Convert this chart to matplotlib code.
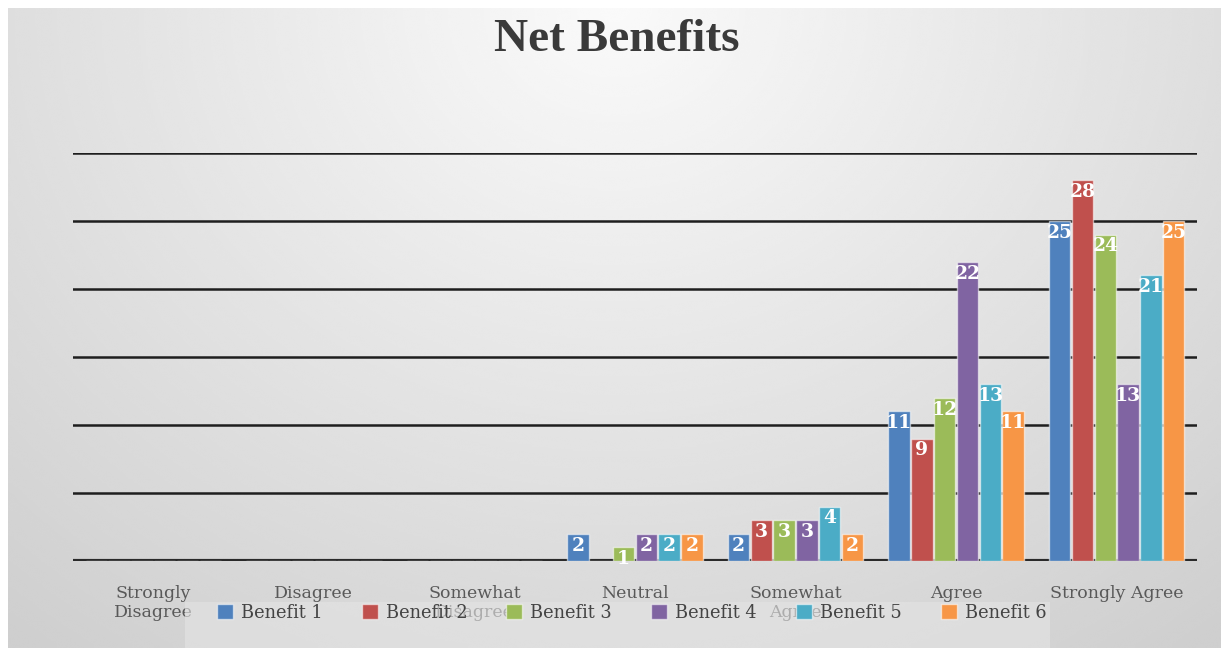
import matplotlib
matplotlib.use('Agg')
import matplotlib.pyplot as plt
from matplotlib.patches import Rectangle
import numpy as np

categories = ['Strongly\nDisagree', 'Disagree', 'Somewhat\nDisagree', 'Neutral',
              'Somewhat\nAgree', 'Agree', 'Strongly Agree']
series_names = ['Benefit 1', 'Benefit 2', 'Benefit 3', 'Benefit 4', 'Benefit 5', 'Benefit 6']
benefit_1 = [0, 0, 0, 2, 2, 11, 25]
benefit_2 = [0, 0, 0, 0, 3, 9, 28]
benefit_3 = [0, 0, 0, 1, 3, 12, 24]
benefit_4 = [0, 0, 0, 2, 3, 22, 13]
benefit_5 = [0, 0, 0, 2, 4, 13, 21]
benefit_6 = [0, 0, 0, 2, 2, 11, 25]
series = [benefit_1, benefit_2, benefit_3, benefit_4, benefit_5, benefit_6]
colors = ['#4F81BD', '#C0504D', '#9BBB59', '#8064A2', '#4BACC6', '#F79646']

W, H = 1221, 648
fig = plt.figure(figsize=(W / 100, H / 100), dpi=100)
fig.patch.set_facecolor('white')

# gradient background of the chart area
bg = fig.add_axes([8 / W, 0, 1 - 8 / W, 1 - 8 / H], zorder=-10)
yy, xx = np.mgrid[0:1:300j, -1:1:600j]
r = np.sqrt((xx * 0.9) ** 2 + (yy * 1.1) ** 2)
shade = 0.98 - 0.17 * np.clip(r, 0, 1.4) / 1.4
bg.imshow(shade, cmap='gray', vmin=0, vmax=1, aspect='auto', extent=[0, 1, 0, 1],
          interpolation='bicubic')
bg.set_axis_off()

ax = fig.add_axes([73 / W, 1 - 561 / H, (1197 - 73) / W, (561 - 153) / H])
ax.set_facecolor('none')

x = np.arange(len(categories))
bw = 0.142
for i, (vals, col, name) in enumerate(zip(series, colors, series_names)):
    pos = x + (i - 2.5) * bw
    ax.bar(pos, vals, width=bw * 0.94, color=col, edgecolor=(1, 1, 1, 0.55),
           linewidth=1.0, label=name, zorder=3)
    for px, v in zip(pos, vals):
        if v > 0:
            ax.annotate(str(v), (px, v), xytext=(0, -2), textcoords='offset points',
                        ha='center', va='top', color='white', fontsize=13.5,
                        fontweight='bold', family='DejaVu Serif', zorder=5)

ax.set_xlim(-0.5, len(categories) - 0.5)
ax.set_ylim(0, 30)
ax.set_yticks(np.arange(5, 31, 5))
ax.yaxis.grid(True, color='#1e1e1e', linewidth=1.8, zorder=0)
ax.set_axisbelow(True)
ax.axhline(0, color='#2a2a2a', linewidth=3, zorder=2)
ax.tick_params(axis='y', left=False, labelleft=False)
ax.tick_params(axis='x', bottom=False)
for s in ax.spines.values():
    s.set_visible(False)
ax.set_xticks(x)
ax.set_xticklabels(categories, family='DejaVu Serif', fontsize=12.5, color='#595959',
                   linespacing=1.15, va='top')
ax.tick_params(axis='x', pad=14)

fig.text(617 / W, 1 - 40 / H, 'Net Benefits', ha='center', va='center',
         fontsize=34, fontweight='bold', family='Liberation Serif', color='#3a3a3a')

# semi-transparent legend box laid over the second row of category labels
fig.patches.append(Rectangle((185 / W, 0), (1050 - 185) / W, (H - 602) / H,
                             transform=fig.transFigure, facecolor='#e4e4e4',
                             edgecolor='none', alpha=0.6, zorder=1))

leg = fig.legend(loc='center left', bbox_to_anchor=(208 / W, 1 - 613 / H), ncol=6,
                 frameon=False, handlelength=0.9, handleheight=0.9,
                 columnspacing=2.2, handletextpad=0.45, borderpad=0,
                 prop={'family': 'DejaVu Serif', 'size': 12.8})
for t in leg.get_texts():
    t.set_color('#444444')

fig.savefig('out.png', dpi=100)
